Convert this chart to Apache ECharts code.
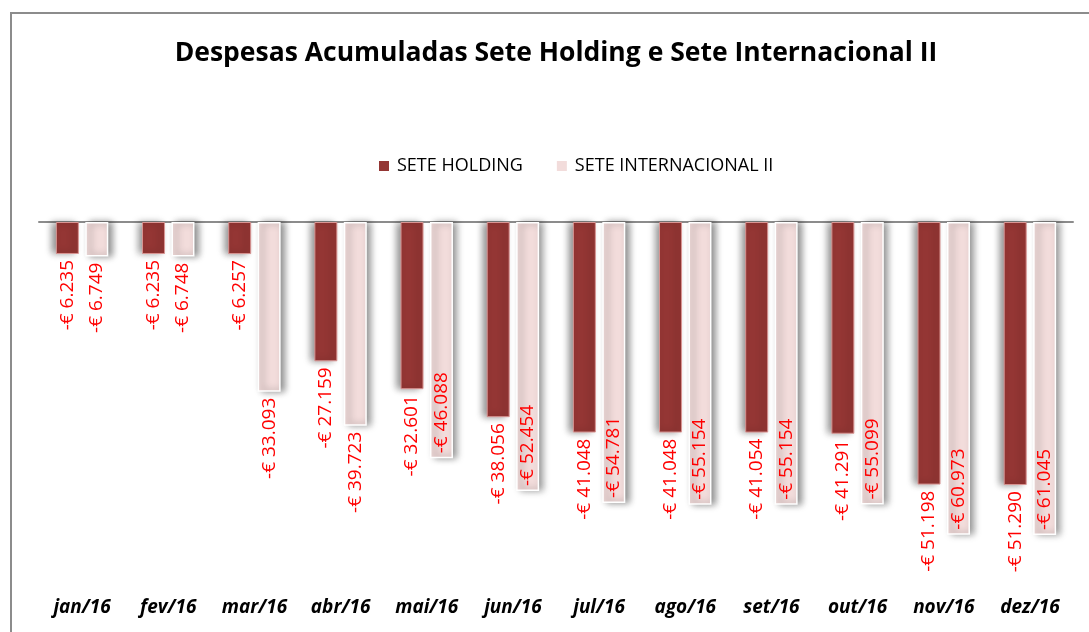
<!DOCTYPE html>
<html>
<head>
<meta charset="utf-8">
<script src="https://cdn.jsdelivr.net/npm/echarts@6/dist/echarts.min.js"></script>
<style>
  html, body { margin: 0; padding: 0; background: #fff; }
  #chart { width: 1089px; height: 632px; }
</style>
</head>
<body>
<div id="chart"></div>
<script>
// dados
var meses = ['jan/16', 'fev/16', 'mar/16', 'abr/16', 'mai/16', 'jun/16', 'jul/16', 'ago/16', 'set/16', 'out/16', 'nov/16', 'dez/16'];
var seteHolding = [-6235, -6235, -6257, -27159, -32601, -38056, -41048, -41048, -41054, -41291, -51198, -51290];
var seteInternacional = [-6749, -6748, -33093, -39723, -46088, -52454, -54781, -55154, -55154, -55099, -60973, -61045];

function fmt(v) {
    var s = Math.abs(v).toString().replace(/\B(?=(\d{3})+(?!\d))/g, '.');
    return '-€ ' + s;
}

var labelFora = {
    show: true, position: 'bottom', distance: 6, rotate: 90,
    align: 'right', verticalAlign: 'middle',
    color: '#ff0000', fontSize: 19, fontFamily: 'Open Sans',
    formatter: function (p) { return fmt(p.value); }
};
var labelDentro = {
    show: true, position: 'insideBottom', distance: 5, rotate: 90,
    align: 'left', verticalAlign: 'middle',
    color: '#ff0000', fontSize: 19, fontFamily: 'Open Sans',
    formatter: function (p) { return fmt(p.value); }
};

var chart = echarts.init(document.getElementById('chart'));
chart.setOption({
    animation: false,
    title: {
        text: 'Despesas Acumuladas Sete Holding e Sete Internacional II',
        left: 551, top: 35, textAlign: 'center',
        textStyle: { fontSize: 26.5, fontWeight: 'bold', color: '#000', fontFamily: 'Open Sans' }
    },
    legend: {
        top: 152, left: 374, itemWidth: 10, itemHeight: 10, itemGap: 34,
        icon: 'rect',
        itemStyle: { shadowBlur: 0, shadowOffsetX: 0, borderWidth: 0 },
        textStyle: { fontSize: 18, color: '#000', fontFamily: 'Open Sans', padding: [0, 0, 0, 3] },
        data: ['SETE HOLDING', 'SETE INTERNACIONAL II']
    },
    graphic: [{
        type: 'polyline',
        shape: { points: [[11, 632], [11, 13], [1089, 13]] },
        style: { stroke: '#8c8c8c', lineWidth: 2, fill: null }
    }],
    grid: { left: 39, right: 16, top: 222, bottom: 51 },
    xAxis: [{
        type: 'category', data: meses, position: 'bottom',
        axisLine: { show: false }, axisTick: { show: false },
        axisLabel: { margin: 17, fontSize: 19, fontWeight: 'bold', fontStyle: 'italic', color: '#000', fontFamily: 'Open Sans' }
    }, {
        type: 'category', data: meses, position: 'top',
        axisLine: { show: true, lineStyle: { color: '#8c8c8c', width: 2 } },
        axisTick: { show: false }, axisLabel: { show: false }
    }],
    yAxis: {
        type: 'value', min: -70000, max: 0, show: false
    },
    series: [{
        name: 'SETE HOLDING', type: 'bar', barWidth: 23, barGap: '28%',
        data: seteHolding,
        itemStyle: {
            color: '#943634', borderColor: '#d99694', borderWidth: 1,
            shadowColor: 'rgba(0,0,0,0.45)', shadowBlur: 7, shadowOffsetX: -4
        },
        label: labelFora
    }, {
        name: 'SETE INTERNACIONAL II', type: 'bar', barWidth: 23,
        data: seteInternacional.map(function (v) {
            return { value: v, label: v < -45000 ? labelDentro : labelFora };
        }),
        itemStyle: {
            color: '#f2dcdb', borderColor: '#ffffff', borderWidth: 1.5,
            shadowColor: 'rgba(0,0,0,0.45)', shadowBlur: 7, shadowOffsetX: 4
        }
    }]
});
</script>
</body>
</html>
